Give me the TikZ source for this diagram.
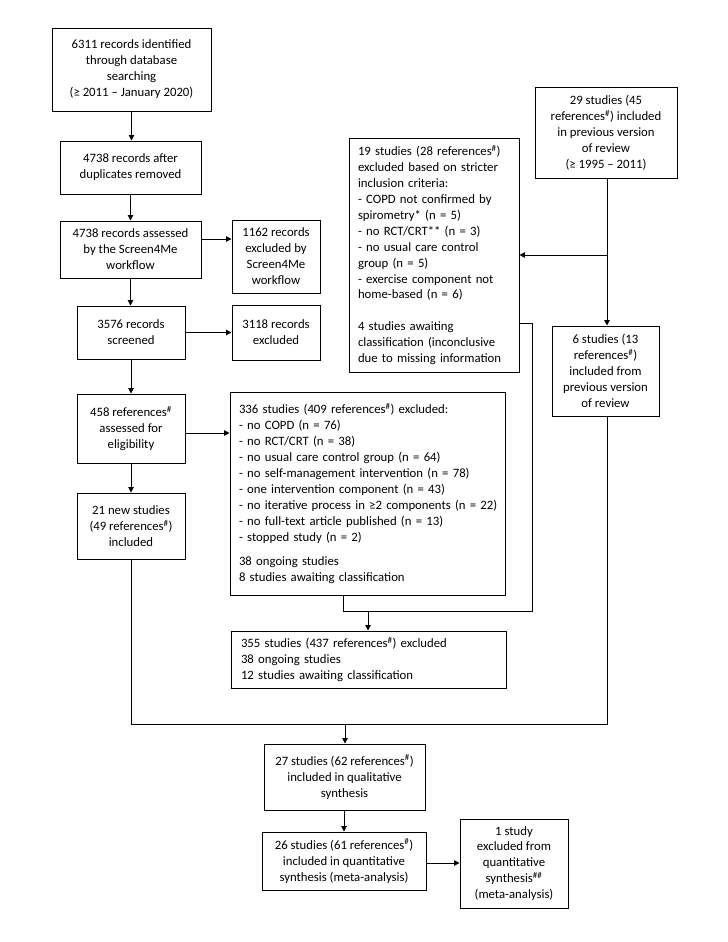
\documentclass[tikz,border=0pt]{standalone}
\usepackage{fontspec}
\setmainfont{Carlito}
\usetikzlibrary{arrows.meta}
\newcommand\myrefs{references\textsuperscript{\#}}
\begin{document}
\begin{tikzpicture}[x=1bp,y=-1bp,
  txt/.style={font=\fontsize{12.8}{16}\selectfont},
  box/.style={txt, draw=black, line width=1pt, inner sep=0pt, align=center},
  lbox/.style={txt, draw=black, line width=1pt, inner ysep=0pt, align=left},
  ln/.style={line width=1pt},
  arr/.style={ln, -{Triangle[length=5.5pt,width=5.5pt]}}]
\useasboundingbox[fill=white] (0,0) rectangle (728,942);

% left column
\node[box, minimum width=159bp, minimum height=83bp] (A) at (131.5,69.5)
  {6311 records identified\\through database\\searching\\(≥ 2011 – January 2020)};
\node[box, minimum width=141bp, minimum height=53bp] (B) at (130.5,167.5)
  {4738 records after\\duplicates removed};
\node[box, minimum width=141bp, minimum height=57bp] (C) at (130.5,249.5)
  {4738 records assessed\\by the Screen4Me\\workflow};
\node[box, minimum width=108bp, minimum height=53bp] (D) at (131,332.5)
  {3576 records\\screened};
\node[box, minimum width=108bp, minimum height=69bp] (N) at (131,428.5)
  {458 \myrefs\\assessed for\\eligibility};
\node[box, minimum width=108bp, minimum height=66bp] (O) at (131,526)
  {21 new studies\\(49 \myrefs)\\included};

% second column
\node[box, minimum width=88bp, minimum height=73bp] (E) at (276,256.5)
  {1162 records\\excluded by\\Screen4Me\\workflow};
\node[box, minimum width=88bp, minimum height=55bp] (F) at (276,332.5)
  {3118 records\\excluded};

\node[lbox, inner xsep=9bp, text width=152bp, minimum height=234bp] (G) at (434,255)
  {19 studies (28 \myrefs)\\excluded based on stricter\\inclusion criteria:\\- COPD not confirmed by\\spirometry* (n = 5)\\- no RCT/CRT** (n = 3)\\- no usual care control\\group (n = 5)\\- exercise component not\\home-based (n = 6)\\[16pt]4 studies awaiting\\classification (inconclusive\\due to missing information};

\node[lbox, inner xsep=9bp, text width=257bp, minimum height=203bp] (P) at (367.5,493.5)
  {336 studies (409 \myrefs) excluded:\\- no COPD (n = 76)\\- no RCT/CRT (n = 38)\\- no usual care control group (n = 64)\\- no self-management intervention (n = 78)\\- one intervention component (n = 43)\\\mbox{- no iterative process in ≥2 components (n = 22)}\\- no full-text article published (n = 13)\\- stopped study (n = 2)\\[8pt]38 ongoing studies\\8 studies awaiting classification};

\node[lbox, inner xsep=10bp, text width=255bp, minimum height=57bp] (H) at (368.5,659.5)
  {355 studies (437 \myrefs) excluded\\38 ongoing studies\\12 studies awaiting classification};

% right column
\node[box, minimum width=142bp, minimum height=91bp] (I) at (606,132.5)
  {29 studies (45\\\myrefs) included\\in previous version\\of review\\(≥ 1995 – 2011)};
\node[box, minimum width=107bp, minimum height=90bp] (J) at (605.5,371)
  {6 studies (13\\\myrefs)\\included from\\previous version\\of review};

% bottom
\node[box, minimum width=161bp, minimum height=66bp] (K) at (344.5,777)
  {27 studies (62 \myrefs)\\included in qualitative\\synthesis};
\node[box, minimum width=164bp, minimum height=58bp] (L) at (344,861)
  {26 studies (61 \myrefs)\\included in quantitative\\synthesis (meta-analysis)};
\node[box, minimum width=108bp, minimum height=89bp] (M) at (514,863.5)
  {1 study\\excluded from\\quantitative\\synthesis\textsuperscript{\#\#}\\(meta-analysis)};

% helper coordinates
\coordinate (ce) at (201,239);
\coordinate (ne) at (185,433);
\coordinate (it) at (607,178);
\coordinate (ib) at (607,255);
\coordinate (jt) at (607,326);
\coordinate (jb) at (607,416);
\coordinate (gx) at (532,323);
\coordinate (pb) at (343,611);
\coordinate (hx) at (368,611);
\coordinate (mrg) at (345,724);
\coordinate (lm) at (426,863);

% connectors
\draw[arr] (A.south) -- (A.south |- B.north);
\draw[arr] (B.south) -- (B.south |- C.north);
\draw[arr] (C.south) -- (C.south |- D.north);
\draw[arr] (D.south) -- (D.south |- N.north);
\draw[arr] (N.south) -- (N.south |- O.north);
\draw[arr] (C.east |- ce) -- (E.west |- ce);
\draw[arr] (D.east) -- (F.west);
\draw[arr] (N.east |- ne) -- (P.west |- ne);

\draw[arr] (it |- I.south) -- (jt |- J.north);
\draw[arr] (ib) -- (G.east |- ib);

\draw[ln] (G.east |- gx) -- (gx) -- (gx |- pb) -- (pb) -- (pb |- P.south);
\draw[arr] (hx) -- (hx |- H.north);

\draw[ln] (O.south) -- (O.south |- mrg) -- (jb |- mrg) -- (jb |- J.south);
\draw[arr] (mrg) -- (mrg |- K.north);

\draw[arr] (K.south -| L.north) -- (L.north);
\draw[arr] (L.east |- lm) -- (M.west |- lm);
\end{tikzpicture}
\end{document}
